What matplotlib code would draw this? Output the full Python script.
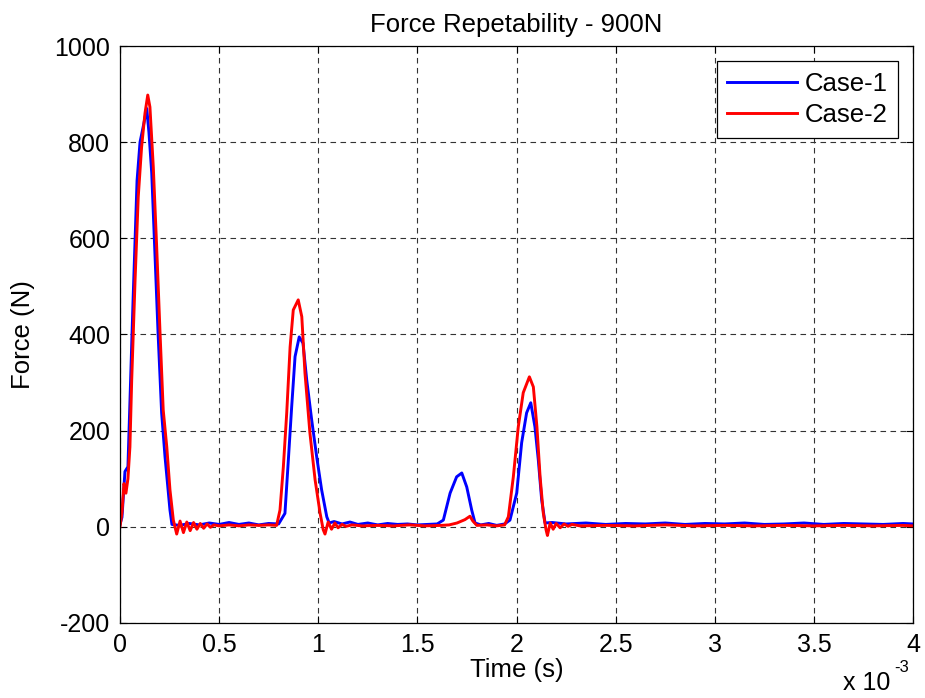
import matplotlib.pyplot as plt

# time in ms (axis shows x 10^-3 s), force in N
t_case1 = [0, 0.01, 0.025, 0.04, 0.066, 0.086, 0.101, 0.116, 0.135, 0.146, 0.160, 0.177, 0.192, 0.210, 0.227, 0.252, 0.262,
           0.30, 0.35, 0.40, 0.45, 0.50, 0.55, 0.60, 0.65, 0.70, 0.75, 0.80,
           0.832, 0.849, 0.866, 0.883, 0.904, 0.923, 0.942, 0.967, 0.992, 1.017, 1.043, 1.055,
           1.08, 1.12, 1.16, 1.20, 1.25, 1.30, 1.35, 1.40, 1.45, 1.50, 1.55, 1.60,
           1.631, 1.665, 1.698, 1.724, 1.749, 1.774, 1.791,
           1.82, 1.86, 1.90, 1.94,
           1.967, 2.001, 2.026, 2.051, 2.072, 2.093, 2.110, 2.127, 2.144,
           2.18, 2.25, 2.35, 2.45, 2.55, 2.65, 2.75, 2.85, 2.95, 3.05, 3.15, 3.25, 3.35, 3.45, 3.55, 3.65, 3.75, 3.85, 3.95, 4.0]
f_case1 = [5, 20, 115, 125, 472, 720, 800, 830, 870, 820, 736, 560, 403, 237, 146, 35, 5,
           3, 7, 4, 8, 5, 9, 5, 8, 4, 7, 6,
           28, 138, 250, 354, 395, 382, 305, 222, 146, 77, 21, 8,
           11, 6, 10, 5, 8, 4, 7, 5, 6, 4, 5, 6,
           14, 70, 104, 112, 83, 35, 8,
           4, 7, 3, 6,
           14, 70, 175, 237, 258, 208, 139, 56, 8,
           9, 6, 8, 5, 7, 6, 8, 5, 7, 6, 8, 5, 6, 8, 5, 7, 6, 5, 7, 6]

t_case2 = [0, 0.01, 0.02, 0.03, 0.04, 0.05, 0.059, 0.076, 0.092, 0.109, 0.126, 0.140, 0.151, 0.168, 0.185, 0.202, 0.218, 0.236, 0.252, 0.269, 0.286,
           0.303, 0.320, 0.337, 0.354, 0.371, 0.388, 0.405, 0.422, 0.439, 0.456, 0.473, 0.50, 0.55, 0.60, 0.65, 0.70, 0.75, 0.79,
           0.807, 0.824, 0.841, 0.858, 0.874, 0.899, 0.917, 0.933, 0.958, 0.984, 1.009, 1.025, 1.034,
           1.05, 1.067, 1.084, 1.10, 1.12, 1.14, 1.17, 1.22, 1.30, 1.38, 1.46, 1.54, 1.62,
           1.66, 1.70, 1.74, 1.765, 1.78, 1.80, 1.85, 1.90, 1.94,
           1.959, 1.984, 2.009, 2.034, 2.065, 2.085, 2.103, 2.119, 2.135, 2.149, 2.156,
           2.17, 2.185, 2.20, 2.22, 2.24, 2.26, 2.28, 2.32, 2.45, 2.6, 2.75, 2.9, 3.05, 3.2, 3.35, 3.5, 3.65, 3.8, 3.95, 4.0]
f_case2 = [0, 30, 90, 70, 100, 166, 305, 513, 686, 790, 860, 898, 873, 748, 582, 403, 243, 166, 77, 14, -15,
           12, -12, 10, -8, 9, -5, 7, -3, 6, -1, 4, 2, 4, 2, 4, 3, 4, 3,
           35, 125, 237, 374, 451, 472, 437, 320, 195, 98, 29, -6, -15,
           10, -5, 8, -2, 5, 1, 4, 2, 3, 2, 4, 2, 3,
           4, 8, 15, 22, 12, 3, 4, 2, 4,
           21, 104, 208, 279, 312, 291, 208, 104, 29, -6, -18,
           8, -5, 7, -2, 6, 1, 5, 2, 3, 2, 4, 2, 3, 2, 3, 2, 3, 2, 3, 2]

x_ticks = [0, 0.5, 1, 1.5, 2, 2.5, 3, 3.5, 4]
x_ticklabels = ["0", "0.5", "1", "1.5", "2", "2.5", "3", "3.5", "4"]
y_ticks = [-200, 0, 200, 400, 600, 800, 1000]

plt.rcParams['font.family'] = ['Liberation Sans', 'DejaVu Sans']
plt.rcParams['axes.unicode_minus'] = False

fig = plt.figure(figsize=(9.25, 6.98), dpi=100)
ax = fig.add_axes([120 / 925, 75 / 698, 793 / 925, 577 / 698])

ax.plot(t_case1, f_case1, color='#0000ff', lw=2.1, label='Case-1')
ax.plot(t_case2, f_case2, color='#ff0000', lw=2.1, label='Case-2')

ax.set_xlim(0, 4)
ax.set_ylim(-200, 1000)
ax.set_xticks(x_ticks)
ax.set_xticklabels(x_ticklabels)
ax.set_yticks(y_ticks)
ax.tick_params(direction='in', length=5, width=0.8, labelsize=18,
               top=True, right=True, pad=7)
for s in ax.spines.values():
    s.set_linewidth(0.9)
ax.grid(True, color='#333333', linestyle=(0, (5, 4)), linewidth=0.8)
ax.set_axisbelow(True)

ax.set_title('Force Repetability - 900N', fontsize=18.5, pad=10)
ax.set_xlabel('Time (s)', fontsize=18.5, labelpad=1)
ax.set_ylabel('Force (N)', fontsize=18.5, labelpad=14)

fig.text(843 / 925, 1 - 683 / 698, 'x 10', fontsize=18, va='center', ha='left')
fig.text(894 / 925, 1 - 668 / 698, '-3', fontsize=12, va='center', ha='left')

leg = ax.legend(loc='upper right', fontsize=18.5, fancybox=False, framealpha=1,
                edgecolor='black', borderaxespad=0.6, handlelength=2.7,
                handletextpad=0.3, borderpad=0.4, labelspacing=0.3)
leg.get_frame().set_linewidth(0.9)

fig.savefig('out.png', dpi=100)
